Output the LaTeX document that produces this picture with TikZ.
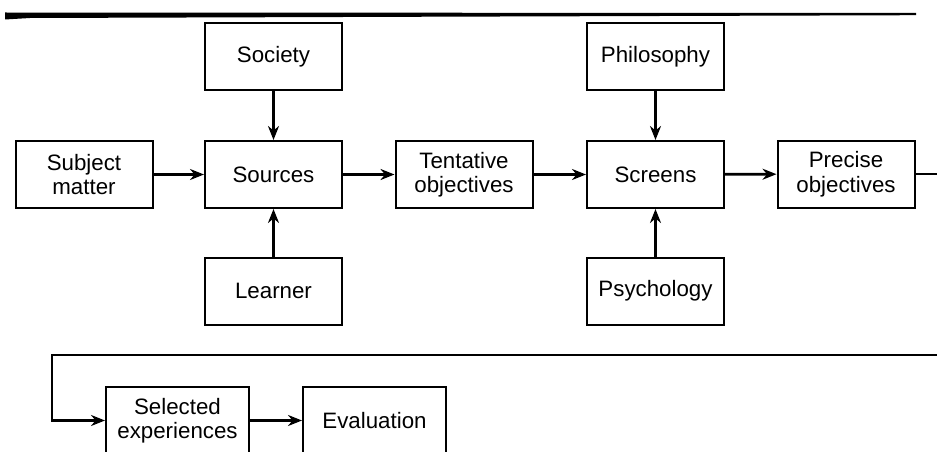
\documentclass[tikz,border=0pt]{standalone}
\usepackage{fontspec}
\setmainfont{Liberation Sans}
\usetikzlibrary{arrows.meta}
\begin{document}
\begin{tikzpicture}[x=1pt,y=-1pt,
  box/.style={draw,line width=2pt,inner sep=0pt,minimum width=137pt,minimum height=67pt,align=center,
    font=\fontsize{22.3}{24.5}\selectfont},
  conn/.style={line width=2.8pt,-{Stealth[length=14pt,width=11pt]}}]
\useasboundingbox (0,0) rectangle (937,452);
\clip (0,0) rectangle (937,452);
% top rule
\fill (5,12.5) -- (916,13) -- (916,15.2) -- (500,16.5) -- (30,18) -- (5,19.5) -- cycle;
% nodes
\node[box] (subject) at (84,174.5) {Subject\\matter};
\node[box] (sources) at (273.5,174.5) {Sources};
\node[box] (society) at (273.5,56.5) {Society};
\node[box] (learner) at (273.5,291) {Learner};
\node[box] (tentative) at (464,174.5) {Tentative\\objectives};
\node[box] (screens) at (655.5,174.5) {Screens};
\node[box] (philosophy) at (655.5,56.5) {Philosophy};
\node[box] (psychology) at (655.5,291) {Psychology};
\node[box] (precise) at (846,174) {Precise\\objectives};
\node[box,minimum width=143pt] (selected) at (177.5,420.5) {Selected\\experiences};
\node[box,minimum width=143pt] (evaluation) at (374.5,420.5) {Evaluation};
\coordinate (r1) at (960,174);
\coordinate (r2) at (960,355);
\coordinate (l1) at (52,355);
\coordinate (l2) at (52,420.5);
% connectors
\draw[conn] (subject) -- (sources);
\draw[conn] (society) -- (sources);
\draw[conn] (learner) -- (sources);
\draw[conn] (sources) -- (tentative);
\draw[conn] (tentative) -- (screens);
\draw[conn] (philosophy) -- (screens);
\draw[conn] (psychology) -- (screens);
\draw[conn] (screens) -- (precise);
\draw[conn] (precise.east) -- (r1) -- (r2) -- (l1) -- (l2) -- (selected.west);
\draw[conn] (selected) -- (evaluation);
\end{tikzpicture}
\end{document}
